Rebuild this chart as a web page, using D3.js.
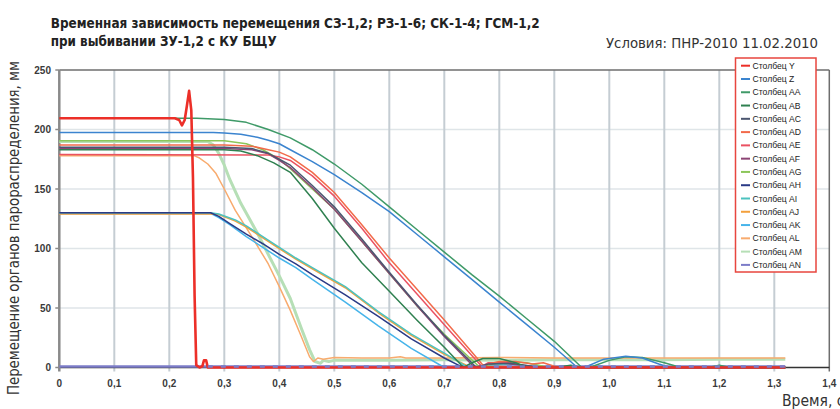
<!DOCTYPE html>
<html><head><meta charset="utf-8">
<script src="https://cdn.jsdelivr.net/npm/d3@7"></script>
<style>
html,body{margin:0;padding:0;background:#fff;overflow:hidden;}
svg{display:block;}
</style></head>
<body>
<svg id="c" width="840" height="409"></svg>
<script>
// ---------- data ----------
const titleLine1 = "Временная зависимость перемещения СЗ-1,2; РЗ-1-6; СК-1-4; ГСМ-1,2";
const titleLine2 = "при выбивании ЗУ-1,2 с КУ БЩУ";
const conditions = "Условия: ПНР-2010 11.02.2010";
const yTitle = "Перемещение органов парораспределения, мм";
const xTitle = "Время, с";
const xTicks = [0,0.1,0.2,0.3,0.4,0.5,0.6,0.7,0.8,0.9,1.0,1.1,1.2,1.3,1.4];
const xTickLabels = ["0","0,1","0,2","0,3","0,4","0,5","0,6","0,7","0,8","0,9","1,0","1,1","1,2","1,3","1,4"];
const yTicks = [0,50,100,150,200,250];
const seriesNames = ["Столбец Y","Столбец Z","Столбец AA","Столбец AB","Столбец AC","Столбец AD","Столбец AE","Столбец AF","Столбец AG","Столбец AH","Столбец AI","Столбец AJ","Столбец AK","Столбец AL","Столбец AM","Столбец AN"];
const seriesColors = ["#ec2f28","#3b84cf","#3f9a68","#2f8050","#4b5670","#f26a4a","#ea5262","#8c4474","#8cc65a","#2a3a86","#4cc2bf","#f3a03c","#46b4ea","#f8ab6e","#b6dfb6","#7c7cc8"];

const sY  = [[0,209.5],[0.21,209.5],[0.218,208],[0.223,203.5],[0.228,208],[0.232,220],[0.236,232.5],[0.24,216],[0.243,160],[0.246,60],[0.249,2],[0.255,0],[0.26,1],[0.263,6],[0.267,6],[0.27,0],[1.32,0]];
const sZ  = [[0,197.5],[0.28,197.5],[0.3,197],[0.33,196],[0.36,193.5],[0.38,191],[0.4,188],[0.42,183],[0.46,173],[0.5,162],[0.55,147],[0.6,131],[0.65,112],[0.7,93],[0.75,74],[0.8,55],[0.85,36],[0.9,17],[0.942,0],[0.96,1],[0.99,7],[1.03,9.5],[1.06,8],[1.09,3],[1.11,0],[1.32,0]];
const sAA = [[0,209.5],[0.25,209.5],[0.3,208.5],[0.34,206],[0.38,200],[0.42,193],[0.46,183],[0.5,171],[0.55,154],[0.6,135],[0.65,116],[0.7,97],[0.75,78],[0.8,60],[0.85,41],[0.9,22],[0.95,0],[0.97,1],[1.0,6],[1.03,9],[1.06,8.5],[1.1,4],[1.13,0],[1.18,0],[1.2,2],[1.22,0],[1.32,0]];
const sAB = [[0,183],[0.3,183],[0.33,182],[0.36,178],[0.39,172],[0.42,164],[0.46,142],[0.5,117],[0.55,88],[0.6,64],[0.65,40],[0.7,17],[0.735,0],[0.75,4],[0.77,7.5],[0.8,7.5],[0.83,4],[0.85,0],[0.9,0],[0.93,2],[0.95,0],[1.32,0]];
const sAC = [[0,185],[0.3,185],[0.35,184],[0.38,180],[0.4,175],[0.42,170],[0.46,153],[0.5,135],[0.55,108],[0.6,80],[0.65,53],[0.7,27],[0.75,4],[0.758,0],[0.78,3],[0.82,3.5],[0.86,1],[0.88,0],[1.32,0]];
const sAD = [[0,187],[0.3,187],[0.35,186],[0.38,183],[0.4,181],[0.42,177],[0.46,164],[0.5,147],[0.55,120],[0.6,92],[0.65,66],[0.7,40],[0.75,13],[0.772,1],[0.78,3],[0.8,5],[0.83,5],[0.86,3],[0.88,4],[0.9,1],[0.92,0],[1.32,0]];
const sAE = [[0,179],[0.38,178.5],[0.4,177],[0.42,174],[0.46,161],[0.5,144],[0.55,117],[0.6,88],[0.65,62],[0.7,36],[0.75,10],[0.768,1],[0.78,4],[0.82,4],[0.85,1],[0.87,0],[1.32,0]];
const sAF = [[0,184],[0.3,184],[0.35,183],[0.38,179.5],[0.4,174],[0.42,168],[0.46,151],[0.5,133],[0.55,106],[0.6,79],[0.65,52],[0.7,26],[0.755,0],[0.77,2],[0.8,4],[0.84,2],[0.86,0],[1.32,0]];
const sAG = [[0,190.5],[0.3,190.5],[0.34,188],[0.37,183],[0.4,175],[0.42,167],[0.46,150],[0.5,133],[0.55,106],[0.6,79],[0.65,52],[0.7,28],[0.765,0],[0.78,2],[0.81,5],[0.85,4],[0.88,1],[0.9,0],[1.32,0]];
const sAH = [[0,130],[0.275,130],[0.29,127],[0.31,121],[0.34,112],[0.37,104],[0.4,95],[0.43,87],[0.46,78],[0.52,61],[0.58,43],[0.64,24],[0.7,8],[0.73,1],[0.745,0],[1.32,0]];
const sAI = [[0,130],[0.275,130],[0.29,129],[0.32,124],[0.34,119],[0.37,110],[0.4,101],[0.43,92],[0.46,84],[0.52,68],[0.58,47],[0.64,28],[0.7,12],[0.74,1],[0.75,0],[0.78,2],[0.82,3],[0.86,1],[0.9,0],[0.93,1],[0.96,0],[1.32,0]];
const sAJ = [[0,129],[0.275,129],[0.29,128.5],[0.32,123],[0.34,118],[0.37,109],[0.4,100],[0.43,91],[0.46,83],[0.52,67],[0.58,46],[0.64,27],[0.7,11],[0.74,2],[0.75,0],[0.8,1],[0.84,0],[1.32,0]];
const sAK = [[0,129.5],[0.275,129.5],[0.29,126],[0.31,120],[0.34,110],[0.37,101],[0.4,92],[0.43,84],[0.46,74],[0.52,55],[0.58,35],[0.64,16],[0.7,0],[1.32,0]];
const sAL = [[0,178],[0.245,178],[0.255,176],[0.27,171],[0.285,163],[0.3,150],[0.32,132],[0.35,110],[0.38,87],[0.4,68],[0.42,48],[0.44,26],[0.455,9],[0.462,5],[0.47,8],[0.48,7],[0.5,8.5],[0.55,8],[0.6,8],[0.62,9],[0.63,8],[0.7,8],[0.8,8.5],[0.9,8],[1.0,8],[1.1,8],[1.2,8],[1.32,8]];
const sAM = [[0,190],[0.27,190],[0.28,187],[0.29,180],[0.3,170],[0.31,158],[0.33,138],[0.36,113],[0.4,77],[0.42,58],[0.44,33],[0.455,15],[0.465,5],[0.475,3.5],[0.48,6],[0.49,5],[0.5,6],[0.6,6],[0.7,6.5],[0.8,6],[0.9,6.5],[1.0,6.5],[1.1,6.5],[1.2,7],[1.32,7]];
const sAN = [[0,0.8],[1.32,0.8]];
const seriesData = [sY,sZ,sAA,sAB,sAC,sAD,sAE,sAF,sAG,sAH,sAI,sAJ,sAK,sAL,sAM,sAN];

// ---------- drawing ----------
const svg = d3.select("#c");
const x = d3.scaleLinear().domain([0,1.4]).range([59.3,829.3]);
const y = d3.scaleLinear().domain([0,250]).range([367.5,70]);
const narrow = "'Liberation Sans Narrow','DejaVu Sans Condensed','Liberation Sans',sans-serif";
const sans = "'Liberation Sans',Arial,sans-serif";

// titles
svg.append("text").attr("x",50.7).attr("y",28.3).attr("font-family",narrow).attr("font-weight","bold")
  .attr("font-size",14.5).attr("fill","#222").attr("textLength",489).attr("lengthAdjust","spacingAndGlyphs").text(titleLine1);
svg.append("text").attr("x",50.7).attr("y",46.3).attr("font-family",narrow).attr("font-weight","bold")
  .attr("font-size",14.5).attr("fill","#222").attr("textLength",226).attr("lengthAdjust","spacingAndGlyphs").text(titleLine2);
svg.append("text").attr("x",606).attr("y",48.3).attr("font-family",narrow)
  .attr("font-size",14.5).attr("fill","#333").attr("textLength",212).attr("lengthAdjust","spacingAndGlyphs").text(conditions);

// grid
const g = svg.append("g");
g.selectAll(".hg").data(yTicks.filter(v=>v>0&&v<250)).join("line")
  .attr("x1",x(0)).attr("x2",x(1.4)).attr("y1",d=>y(d)).attr("y2",d=>y(d))
  .attr("stroke","#dfe5e8").attr("stroke-width",1.5);
g.selectAll(".vg").data(xTicks.filter(v=>v>0&&v<1.4)).join("line")
  .attr("x1",d=>x(d)).attr("x2",d=>x(d)).attr("y1",y(250)).attr("y2",y(0)+4)
  .attr("stroke","#c5cdd3").attr("stroke-width",2);

// border top / right
g.append("line").attr("x1",x(0)).attr("x2",x(1.4)).attr("y1",y(250)).attr("y2",y(250)).attr("stroke","#6e6e6e").attr("stroke-width",1.5);
g.append("line").attr("x1",x(1.4)).attr("x2",x(1.4)).attr("y1",y(250)).attr("y2",y(0)+4).attr("stroke","#6e6e6e").attr("stroke-width",1.5);
// x axis line
g.append("line").attr("x1",x(0)).attr("x2",x(1.4)).attr("y1",y(0)).attr("y2",y(0)).attr("stroke","#333").attr("stroke-width",1.5);
// y axis line + ticks
g.append("line").attr("x1",x(0)).attr("x2",x(0)).attr("y1",y(250)).attr("y2",y(0)+4).attr("stroke","#8a8a8a").attr("stroke-width",2.5);
g.selectAll(".yt").data(yTicks).join("line").attr("x1",x(0)-4).attr("x2",x(0)).attr("y1",d=>y(d)).attr("y2",d=>y(d))
  .attr("stroke","#8a8a8a").attr("stroke-width",1.5);

// tick labels
svg.selectAll(".xl").data(xTicks).join("text").attr("x",d=>x(d)).attr("y",386.5).attr("text-anchor","middle")
  .attr("font-family",sans).attr("font-size",10).attr("font-weight","bold").attr("fill","#3a3a3a").text((d,i)=>xTickLabels[i]);
svg.selectAll(".yl").data(yTicks).join("text").attr("x",51).attr("y",d=>y(d)+3.5).attr("text-anchor","end")
  .attr("font-family",sans).attr("font-size",10).attr("font-weight","bold").attr("fill","#3a3a3a").text(d=>d);

// axis titles
svg.append("text").attr("transform","translate(18.5,228) rotate(-90)").attr("text-anchor","middle")
  .attr("font-family",narrow).attr("font-size",15).attr("fill","#333").attr("textLength",334).attr("lengthAdjust","spacingAndGlyphs").text(yTitle);
svg.append("text").attr("x",782).attr("y",406).attr("font-family",narrow).attr("font-size",15.5).attr("fill","#333").text(xTitle);

// series
const line = d3.line().x(d=>x(d[0])).y(d=>y(d[1]));
const widths = seriesNames.map((n,i)=> i===0?2.6:(i===14?3:(i===15?2.5:1.5)));
const order = d3.range(seriesData.length).reverse(); // Y drawn last
const sg = svg.append("g").attr("fill","none").attr("stroke-linejoin","round");
order.forEach(i=>{
  sg.append("path").datum(seriesData[i]).attr("d",line).attr("stroke",seriesColors[i]).attr("stroke-width",widths[i]);
});
// lavender series showing through the red baseline (overlap dashes)
sg.append("path").datum(sAN.map(d=>d).concat([]).map(d=>[Math.max(d[0],0.27),d[1]]))
  .attr("d",line).attr("stroke",seriesColors[15]).attr("stroke-width",2.5).attr("stroke-dasharray","5,8");

// legend
const lg = svg.append("g");
lg.append("rect").attr("x",735.5).attr("y",58).attr("width",80.5).attr("height",214)
  .attr("fill","#fff").attr("stroke","#e8463e").attr("stroke-width",1.5);
seriesNames.forEach((n,i)=>{
  const yy = 65.7 + i*13.28;
  lg.append("line").attr("x1",741).attr("x2",750).attr("y1",yy).attr("y2",yy).attr("stroke",seriesColors[i]).attr("stroke-width",2);
  lg.append("text").attr("x",752.5).attr("y",yy+3).attr("font-family",sans).attr("font-size",8.6).attr("fill","#222").text(n);
});
</script>
</body></html>
